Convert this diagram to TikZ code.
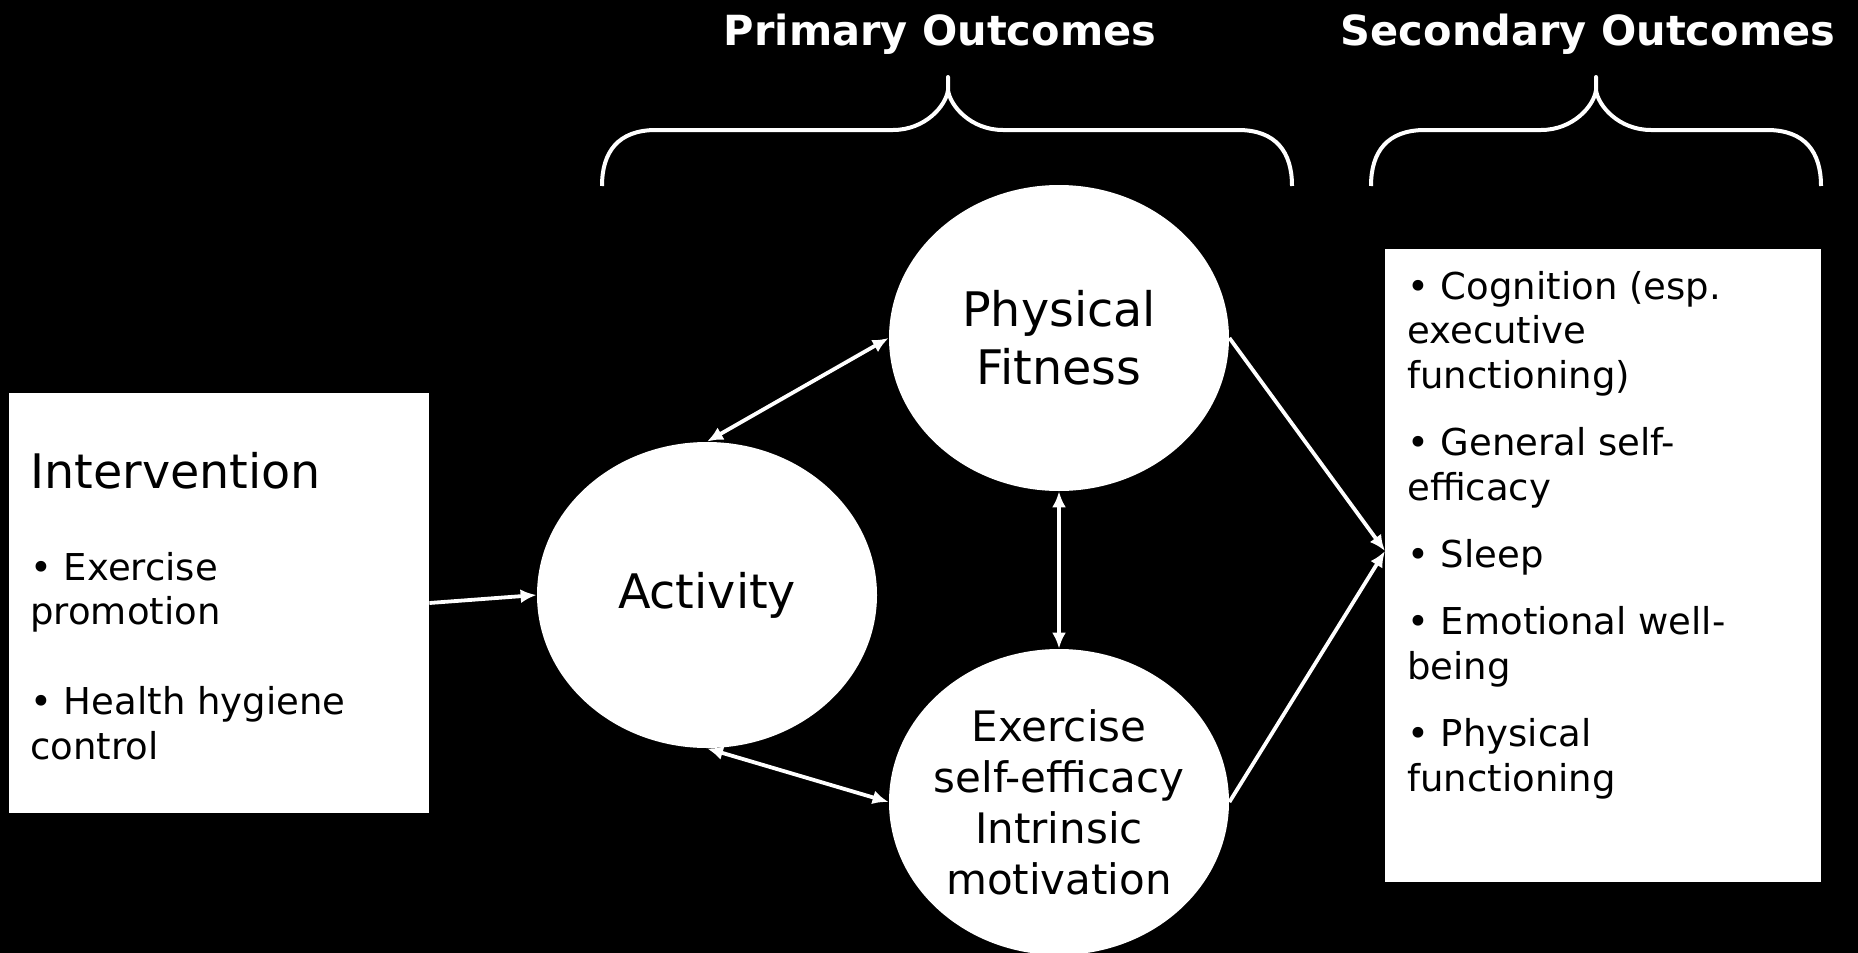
\documentclass[tikz,border=0pt]{standalone}
\usepackage{fontspec}
\setmainfont{DejaVu Sans}
\usetikzlibrary{shapes.geometric,arrows.meta}
\begin{document}
\begin{tikzpicture}[x=0.5pt,y=-0.5pt,
  ell/.style={ellipse, fill=white, draw=none, minimum width=170pt, minimum height=153pt, inner sep=-15pt, align=center},
  box/.style={rectangle, fill=white, draw=none, inner sep=0pt},
  big/.style={font=\fontsize{23.8}{29}\selectfont},
  txt/.style={anchor=base west, inner sep=0pt, font=\fontsize{18.5}{22}\selectfont},
  arr/.style={draw=white, line width=1.9pt, -{Latex[length=8pt,width=7pt]}},
  darr/.style={draw=white, line width=1.9pt, {Latex[length=8pt,width=7pt]}-{Latex[length=8pt,width=7pt]}},
  brace/.style={draw=white, line width=2pt, line join=round},
  ttl/.style={text=white, font=\bfseries\fontsize{20.75}{24}\selectfont, anchor=base, inner sep=0pt}]

\fill[black] (0,0) rectangle (1858,953);
\useasboundingbox (0,0) rectangle (1858,953);

% titles
\node[ttl] (t1) at (940,45) {Primary Outcomes};
\node[ttl] (t2) at (1588,45) {Secondary Outcomes};

% braces
\draw[brace] (602,186) .. controls (602,152) and (618,130) .. (656,130) -- (893,130)
  .. controls (925,130) and (946,106) .. (948,90) -- (948,77) -- (948,90)
  .. controls (950,106) and (971,130) .. (1003,130) -- (1238,130)
  .. controls (1276,130) and (1292,152) .. (1292,186);
\draw[brace] (1371,186) .. controls (1371,152) and (1387,130) .. (1425,130) -- (1541,130)
  .. controls (1573,130) and (1594,106) .. (1596,90) -- (1596,77) -- (1596,90)
  .. controls (1598,106) and (1619,130) .. (1651,130) -- (1767,130)
  .. controls (1805,130) and (1821,152) .. (1821,186);

% left box
\node[box, minimum width=210pt, minimum height=210pt] (inter) at (219,603) {};
\node[txt, big] (it0) at (30,488) {Intervention};
\node[txt] (it1) at (30,580) {• Exercise};
\node[txt] (it2) at (30,624) {promotion};
\node[txt] (it3) at (30,714) {• Health hygiene};
\node[txt] (it4) at (30,759) {control};

% ellipses
\node[ell, big] (act) at (707,595) {Activity};
\node[ell, big] (pf) at (1059,338) {Physical\\Fitness};
\node[ell, font=\fontsize{21}{25.5}\selectfont] (ex) at (1059,802) {Exercise\\self-efficacy\\Intrinsic\\motivation};

% right box
\node[box, minimum width=218pt, minimum height=316.5pt] (sec) at (1603,565.5) {};
\node[txt] (s1) at (1407,299) {• Cognition (esp.};
\node[txt] (s2) at (1407,343.5) {executive};
\node[txt] (s3) at (1407,388) {functioning)};
\node[txt] (s4) at (1407,455.5) {• General self-};
\node[txt] (s5) at (1407,500) {efficacy};
\node[txt] (s6) at (1407,567) {• Sleep};
\node[txt] (s7) at (1407,634.5) {• Emotional well-};
\node[txt] (s8) at (1407,679) {being};
\node[txt] (s9) at (1407,746.5) {• Physical};
\node[txt] (s10) at (1407,791) {functioning};
\coordinate (sin) at (1385,551);

% connectors
\draw[arr] (inter.east) -- (act.west);
\draw[darr] (act.north) -- (pf.west);
\draw[darr] (act.south) -- (ex.west);
\draw[darr] (pf.south) -- (ex.north);
\draw[arr] (pf.east) -- (sin);
\draw[arr] (ex.east) -- (sin);
\end{tikzpicture}
\end{document}
